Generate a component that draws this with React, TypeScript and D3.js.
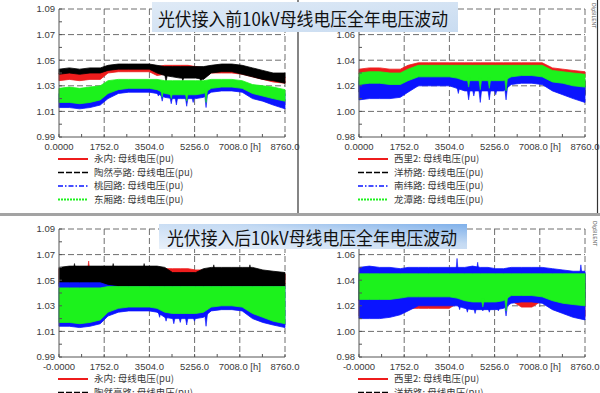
import React from 'react';
import * as d3 from 'd3';

// sample hours (read points along the year)
const hours = [0, 400, 800, 1200, 1600, 1900, 2300, 2700, 3100, 3500, 3800, 4100, 4400, 4700, 5000, 5300, 5600, 5900, 6300, 6700, 7100, 7500, 7900, 8300, 8760];

const xTicks = [0, 1752, 3504, 5256, 7008, 8760];
const xLabelsPre = ['0.0000', '1752.0', '3504.0', '5256.0', '7008.0 [h]', '8760.0'];
const xLabelsPost = ['-0.0000', '1752.0', '3504.0', '5256.0', '7008.0 [h]', '8760.0'];
const yTicksLeft = [0.99, 1.01, 1.03, 1.05, 1.07, 1.09];
// 1.08 sits under the title box in the original, so only the grid line is drawn there
const yTicksRight = [0.98, 1.0, 1.02, 1.04, 1.06];
const yGridRight = [1.0, 1.02, 1.04, 1.06, 1.08];
const yGridLeft = [1.01, 1.03, 1.05, 1.07, 1.09];

const namesLeft = ['永内', '陶然亭路', '桃园路', '东厢路'];
const namesRight = ['西里2', '洋桥路', '南纬路', '龙潭路'];
const titles = ['光伏接入前10kV母线电压全年电压波动', '光伏接入后10kV母线电压全年电压波动'];

// 光伏接入前 — 左
const plRedHi = [1.040, 1.041, 1.040, 1.041, 1.041, 1.044, 1.045, 1.045, 1.045, 1.045, 1.045, 1.046, 1.046, 1.046, 1.046, 1.045, 1.044, 1.045, 1.045, 1.045, 1.044, 1.042, 1.040, 1.039, 1.037];
const plRedLo = [1.034, 1.035, 1.034, 1.035, 1.035, 1.040, 1.041, 1.041, 1.041, 1.041, 1.038, 1.039, 1.039, 1.037, 1.037, 1.037, 1.036, 1.040, 1.040, 1.040, 1.039, 1.037, 1.035, 1.033, 1.032];
const plBlackHi = [1.043, 1.044, 1.043, 1.044, 1.044, 1.046, 1.047, 1.047, 1.047, 1.047, 1.046, 1.045, 1.045, 1.045, 1.045, 1.045, 1.045, 1.046, 1.047, 1.047, 1.046, 1.044, 1.042, 1.040, 1.040];
const plBlackLo = [1.039, 1.040, 1.039, 1.040, 1.040, 1.042, 1.043, 1.043, 1.043, 1.043, 1.040, 1.038, 1.037, 1.036, 1.036, 1.036, 1.035, 1.040, 1.041, 1.041, 1.039, 1.037, 1.035, 1.034, 1.032];
const plBlueHi = [1.024, 1.025, 1.024, 1.025, 1.026, 1.030, 1.031, 1.031, 1.031, 1.031, 1.030, 1.030, 1.030, 1.030, 1.030, 1.030, 1.030, 1.031, 1.031, 1.031, 1.031, 1.027, 1.026, 1.025, 1.024];
const plBlueLo = [1.013, 1.013, 1.012, 1.013, 1.015, 1.020, 1.024, 1.025, 1.025, 1.025, 1.024, 1.021, 1.020, 1.020, 1.020, 1.020, 1.021, 1.025, 1.026, 1.026, 1.025, 1.020, 1.018, 1.015, 1.012];
const plGreenHi = [1.028, 1.029, 1.028, 1.029, 1.030, 1.034, 1.035, 1.035, 1.035, 1.035, 1.035, 1.034, 1.034, 1.034, 1.034, 1.034, 1.034, 1.035, 1.035, 1.035, 1.034, 1.031, 1.030, 1.029, 1.027];
const plGreenLo = [1.017, 1.017, 1.016, 1.017, 1.019, 1.024, 1.027, 1.028, 1.028, 1.028, 1.027, 1.024, 1.023, 1.023, 1.023, 1.023, 1.024, 1.028, 1.029, 1.029, 1.028, 1.024, 1.022, 1.020, 1.018];
const plBlackDips = [[4150, 1.033], [4800, 1.034], [5500, 1.033]];
const plBlueDips = [[3850, 1.022], [4000, 1.018], [4350, 1.016], [4550, 1.015], [4950, 1.014], [5200, 1.017], [5700, 1.013]];
const plGreenDips = [[4000, 1.021], [4350, 1.020], [4950, 1.018], [5700, 1.017]];

// 光伏接入前 — 右
const prRedHi = [1.033, 1.034, 1.034, 1.033, 1.033, 1.036, 1.038, 1.038, 1.038, 1.038, 1.038, 1.038, 1.038, 1.038, 1.038, 1.038, 1.038, 1.038, 1.038, 1.038, 1.038, 1.034, 1.033, 1.032, 1.031];
const prRedLo = [1.029, 1.030, 1.030, 1.029, 1.029, 1.032, 1.035, 1.035, 1.035, 1.035, 1.034, 1.034, 1.034, 1.034, 1.034, 1.034, 1.034, 1.035, 1.035, 1.035, 1.035, 1.031, 1.030, 1.029, 1.027];
const prBlackHi = [1.027, 1.028, 1.028, 1.027, 1.027, 1.030, 1.032, 1.032, 1.032, 1.032, 1.031, 1.030, 1.030, 1.030, 1.030, 1.030, 1.030, 1.032, 1.033, 1.033, 1.032, 1.028, 1.027, 1.026, 1.025];
const prBlackLo = [1.015, 1.016, 1.016, 1.016, 1.016, 1.019, 1.023, 1.023, 1.023, 1.023, 1.022, 1.020, 1.020, 1.020, 1.020, 1.020, 1.020, 1.024, 1.025, 1.025, 1.024, 1.019, 1.017, 1.015, 1.013];
const prBlueHi = [1.024, 1.025, 1.025, 1.024, 1.025, 1.027, 1.029, 1.029, 1.029, 1.029, 1.028, 1.027, 1.027, 1.027, 1.027, 1.027, 1.027, 1.029, 1.030, 1.030, 1.029, 1.025, 1.023, 1.021, 1.020];
const prBlueLo = [1.009, 1.010, 1.010, 1.010, 1.011, 1.015, 1.020, 1.020, 1.020, 1.020, 1.018, 1.016, 1.016, 1.016, 1.016, 1.016, 1.016, 1.021, 1.022, 1.022, 1.021, 1.016, 1.013, 1.010, 1.007];
const prGreenHi = [1.030, 1.031, 1.031, 1.030, 1.030, 1.033, 1.036, 1.036, 1.036, 1.036, 1.036, 1.036, 1.036, 1.036, 1.036, 1.036, 1.036, 1.036, 1.036, 1.036, 1.036, 1.032, 1.031, 1.030, 1.029];
const prGreenLo = [1.021, 1.022, 1.022, 1.021, 1.021, 1.024, 1.027, 1.027, 1.027, 1.027, 1.026, 1.024, 1.024, 1.024, 1.024, 1.024, 1.024, 1.027, 1.028, 1.028, 1.027, 1.023, 1.022, 1.020, 1.019];
const prBlueDips = [[3850, 1.014], [4250, 1.009], [4450, 1.012], [4700, 1.007], [5050, 1.009], [5300, 1.013], [5700, 1.009]];
const prGreenDips = [[4250, 1.019], [4700, 1.017], [5050, 1.018], [5700, 1.016]];

// 光伏接入后 — 左
const qlRedHi = [1.059, 1.060, 1.060, 1.060, 1.060, 1.060, 1.060, 1.060, 1.060, 1.060, 1.060, 1.059, 1.059, 1.059, 1.059, 1.058, 1.058, 1.059, 1.059, 1.059, 1.059, 1.059, 1.057, 1.056, 1.055];
const qlRedLo = [1.047, 1.047, 1.047, 1.047, 1.047, 1.047, 1.047, 1.047, 1.047, 1.047, 1.047, 1.047, 1.047, 1.047, 1.047, 1.047, 1.047, 1.047, 1.047, 1.047, 1.047, 1.047, 1.047, 1.047, 1.047];
const qlBlackHi = [1.060, 1.061, 1.061, 1.061, 1.061, 1.061, 1.061, 1.061, 1.061, 1.061, 1.061, 1.060, 1.056, 1.056, 1.056, 1.056, 1.059, 1.060, 1.060, 1.060, 1.060, 1.060, 1.058, 1.057, 1.056];
const qlBlackLo = [1.045, 1.045, 1.045, 1.045, 1.045, 1.045, 1.045, 1.045, 1.045, 1.045, 1.045, 1.045, 1.045, 1.045, 1.045, 1.045, 1.045, 1.045, 1.045, 1.045, 1.045, 1.045, 1.045, 1.045, 1.045];
const qlBlueHi = [1.048, 1.048, 1.048, 1.048, 1.048, 1.046, 1.045, 1.045, 1.045, 1.045, 1.045, 1.045, 1.045, 1.045, 1.045, 1.045, 1.045, 1.045, 1.045, 1.045, 1.045, 1.045, 1.045, 1.045, 1.045];
const qlBlueLo = [1.014, 1.014, 1.013, 1.014, 1.016, 1.022, 1.025, 1.026, 1.026, 1.026, 1.025, 1.021, 1.020, 1.020, 1.020, 1.020, 1.021, 1.026, 1.027, 1.027, 1.026, 1.020, 1.017, 1.015, 1.013];
const qlGreenHi = [1.044, 1.044, 1.044, 1.044, 1.044, 1.045, 1.045, 1.045, 1.045, 1.045, 1.045, 1.045, 1.045, 1.045, 1.045, 1.045, 1.045, 1.045, 1.045, 1.045, 1.045, 1.045, 1.045, 1.045, 1.045];
const qlGreenLo = [1.017, 1.017, 1.016, 1.017, 1.019, 1.025, 1.028, 1.029, 1.029, 1.029, 1.028, 1.025, 1.024, 1.024, 1.024, 1.024, 1.025, 1.029, 1.030, 1.030, 1.029, 1.024, 1.021, 1.018, 1.016];
const qlRedSpikes = [[1150, 1.065]];
const qlBlackSpikes = [[600, 1.063], [2100, 1.063], [3300, 1.063], [6000, 1.062], [7400, 1.062]];
const qlBlueDips = [[3900, 1.021], [4150, 1.018], [4450, 1.016], [4700, 1.017], [4950, 1.015], [5250, 1.018], [5700, 1.014]];

// 光伏接入后 — 右
const qrRedHi = [1.040, 1.040, 1.040, 1.040, 1.040, 1.040, 1.040, 1.040, 1.040, 1.040, 1.040, 1.040, 1.040, 1.040, 1.040, 1.040, 1.040, 1.040, 1.040, 1.040, 1.040, 1.040, 1.040, 1.040, 1.040];
const qrRedLo = [1.012, 1.012, 1.012, 1.013, 1.015, 1.018, 1.018, 1.018, 1.018, 1.018, 1.022, 1.020, 1.019, 1.019, 1.019, 1.019, 1.020, 1.024, 1.019, 1.019, 1.024, 1.019, 1.016, 1.013, 1.011];
const qrBlackHi = [1.046, 1.046, 1.046, 1.046, 1.046, 1.046, 1.046, 1.046, 1.046, 1.046, 1.046, 1.046, 1.046, 1.046, 1.046, 1.046, 1.046, 1.046, 1.046, 1.046, 1.046, 1.046, 1.046, 1.046, 1.046];
const qrBlackLo = [1.024, 1.024, 1.024, 1.024, 1.024, 1.024, 1.024, 1.024, 1.024, 1.024, 1.024, 1.024, 1.024, 1.024, 1.024, 1.024, 1.024, 1.024, 1.024, 1.024, 1.024, 1.024, 1.024, 1.024, 1.024];
const qrBlueHi = [1.050, 1.051, 1.050, 1.050, 1.049, 1.050, 1.050, 1.050, 1.050, 1.050, 1.050, 1.050, 1.051, 1.050, 1.050, 1.049, 1.049, 1.050, 1.050, 1.050, 1.050, 1.049, 1.048, 1.047, 1.047];
const qrBlueLo = [1.010, 1.010, 1.010, 1.011, 1.013, 1.016, 1.020, 1.020, 1.020, 1.020, 1.020, 1.018, 1.017, 1.017, 1.017, 1.017, 1.018, 1.022, 1.023, 1.023, 1.022, 1.017, 1.014, 1.011, 1.009];
const qrGreenHi = [1.045, 1.045, 1.045, 1.045, 1.045, 1.045, 1.045, 1.045, 1.045, 1.045, 1.045, 1.045, 1.045, 1.045, 1.045, 1.045, 1.045, 1.045, 1.045, 1.045, 1.045, 1.045, 1.045, 1.045, 1.045];
const qrGreenLo = [1.025, 1.025, 1.025, 1.025, 1.026, 1.027, 1.027, 1.027, 1.027, 1.027, 1.026, 1.024, 1.023, 1.023, 1.023, 1.023, 1.024, 1.028, 1.028, 1.028, 1.027, 1.024, 1.022, 1.021, 1.020];
const qrBlueDips = [[3900, 1.017], [4200, 1.015], [4500, 1.014], [4800, 1.016], [5050, 1.015], [5400, 1.016], [5700, 1.012]];
const qrBlueSpikes = [[3800, 1.057], [4600, 1.054], [8600, 1.052]];
const qrGreenDips = [[4800, 1.019], [5700, 1.016]];

const RED = '#ee1c1c';
const BLACK = '#000000';
const BLUE = '#0a14ff';
const GREEN = '#1cf21c';
const styles = [
  { color: RED, dash: '', width: 2 },
  { color: BLACK, dash: '6,2', width: 1.6 },
  { color: BLUE, dash: '5,2,1.5,2', width: 1.6 },
  { color: GREEN, dash: '2,1', width: 2 },
];

const FONT = '"Liberation Sans", Arial, sans-serif';
const CJK = '"Noto Sans CJK SC", sans-serif';

type Band = { hi: number[]; lo: number[]; dips?: number[][]; spikes?: number[][] };

const Panel = ({ left, top, domain, yTicks, yGrid, xLabels, names, bands, rows }: any) => {
  const right = left + 226;
  const bottom = top + 128;
  const x = d3.scaleLinear().domain([0, 8760]).range([left, right]);
  const y = d3.scaleLinear().domain(domain).range([bottom, top]);
  const line = d3.line();
  const minorY = d3.range(domain[0], domain[1] + 0.0001, 0.01);
  const minorX = d3.range(0, 8761, 876);

  return (
    <g>
      {/* grid */}
      {yGrid.map((t: number) => (
        <line key={'gy' + t} x1={left} x2={right} y1={y(t)} y2={y(t)} stroke="#6e6e6e" strokeDasharray="6,3" />
      ))}
      {xTicks.slice(1).map((t) => (
        <line key={'gx' + t} x1={x(t)} x2={x(t)} y1={top} y2={bottom} stroke="#6e6e6e" strokeDasharray="6,3" />
      ))}
      {/* data bands */}
      {bands.map((b: Band, i: number) => {
        const pts: [number, number][] = hours
          .map((h, k) => [x(h), y(b.hi[k])] as [number, number])
          .concat(hours.map((h, k) => [x(h), y(b.lo[k])] as [number, number]).reverse());
        const loAt = d3.scaleLinear().domain(hours).range(b.lo);
        const hiAt = d3.scaleLinear().domain(hours).range(b.hi);
        const c = styles[i].color;
        return (
          <g key={'b' + i}>
            <path d={line(pts) + 'Z'} fill={c} stroke={c} strokeWidth={0.8} />
            {(b.dips || []).map(([h, v], k) => (
              <path key={'d' + k} d={`M${x(h) - 1.6},${y(loAt(h) + 0.002)}L${x(h)},${y(v)}L${x(h) + 1.6},${y(loAt(h) + 0.002)}Z`} fill={c} stroke={c} strokeWidth={0.6} />
            ))}
            {(b.spikes || []).map(([h, v], k) => (
              <path key={'s' + k} d={`M${x(h) - 1},${y(hiAt(h) - 0.002)}L${x(h)},${y(v)}L${x(h) + 1},${y(hiAt(h) - 0.002)}Z`} fill={c} stroke={c} strokeWidth={0.6} />
            ))}
          </g>
        );
      })}
      {/* axes */}
      <line x1={left} x2={left} y1={top} y2={bottom} stroke="#555" />
      <line x1={left} x2={right} y1={bottom} y2={bottom} stroke="#555" />
      {minorY.map((t) => (
        <line key={'my' + t} x1={left} x2={left + 3} y1={y(t)} y2={y(t)} stroke="#555" />
      ))}
      {minorX.map((t) => (
        <line key={'mx' + t} x1={x(t)} x2={x(t)} y1={bottom} y2={bottom - 3} stroke="#555" />
      ))}
      {yTicks.map((t: number) => (
        <text key={'ly' + t} x={left - 4} y={y(t)} dy="0.35em" textAnchor="end" fontSize={9.5} fontFamily={FONT} fill="#3a3a3a">
          {t.toFixed(2)}
        </text>
      ))}
      {xTicks.map((t, k) => (
        <text key={'lx' + t} x={x(t)} y={bottom + 10} dy="0.35em" textAnchor="middle" fontSize={9.5} fontFamily={FONT} fill="#3a3a3a">
          {xLabels[k]}
        </text>
      ))}
      {/* legend */}
      {names.slice(0, rows).map((n: string, k: number) => {
        const ly = bottom + 22 + k * 13.5;
        const s = styles[k];
        return (
          <g key={'lg' + k}>
            <line x1={left - 1} x2={left + 29} y1={ly} y2={ly} stroke={s.color} strokeWidth={s.width} strokeDasharray={s.dash} />
            <text x={left + 35} y={ly} dy="0.35em" fontSize={9.5} fontFamily={CJK} fill="#3a3a3a">
              {n}: 母线电压(pu)
            </text>
          </g>
        );
      })}
    </g>
  );
};

const App = () => {
  const panels = [
    {
      left: 59, top: 9, domain: [0.99, 1.09], yTicks: yTicksLeft, yGrid: yGridLeft, xLabels: xLabelsPre, names: namesLeft, rows: 4,
      bands: [
        { hi: plRedHi, lo: plRedLo },
        { hi: plBlackHi, lo: plBlackLo, dips: plBlackDips },
        { hi: plBlueHi, lo: plBlueLo, dips: plBlueDips },
        { hi: plGreenHi, lo: plGreenLo, dips: plGreenDips },
      ],
    },
    {
      left: 359, top: 9, domain: [0.98, 1.08], yTicks: yTicksRight, yGrid: yGridRight, xLabels: xLabelsPre, names: namesRight, rows: 4,
      bands: [
        { hi: prRedHi, lo: prRedLo },
        { hi: prBlackHi, lo: prBlackLo },
        { hi: prBlueHi, lo: prBlueLo, dips: prBlueDips },
        { hi: prGreenHi, lo: prGreenLo, dips: prGreenDips },
      ],
    },
    {
      left: 59, top: 229, domain: [0.99, 1.09], yTicks: yTicksLeft, yGrid: yGridLeft, xLabels: xLabelsPost, names: namesLeft, rows: 2,
      bands: [
        { hi: qlRedHi, lo: qlRedLo, spikes: qlRedSpikes },
        { hi: qlBlackHi, lo: qlBlackLo, spikes: qlBlackSpikes },
        { hi: qlBlueHi, lo: qlBlueLo, dips: qlBlueDips },
        { hi: qlGreenHi, lo: qlGreenLo },
      ],
    },
    {
      left: 359, top: 229, domain: [0.98, 1.08], yTicks: yTicksRight, yGrid: yGridRight, xLabels: xLabelsPost, names: namesRight, rows: 2,
      bands: [
        { hi: qrRedHi, lo: qrRedLo },
        { hi: qrBlackHi, lo: qrBlackLo },
        { hi: qrBlueHi, lo: qrBlueLo, dips: qrBlueDips, spikes: qrBlueSpikes },
        { hi: qrGreenHi, lo: qrGreenLo, dips: qrGreenDips },
      ],
    },
  ];

  return (
    <div style={{ position: 'absolute', left: 0, top: 0, width: 600, height: 393, background: '#fff', overflow: 'hidden' }}>
      <svg width={600} height={393} style={{ display: 'block' }}>
        <defs>
          <linearGradient id="t1" x1="0" y1="0" x2="1" y2="1">
            <stop offset="0" stopColor="#dfeaf6" />
            <stop offset="1" stopColor="#c9dcf1" />
          </linearGradient>
          <linearGradient id="t2" x1="0" y1="1" x2="1" y2="0">
            <stop offset="0" stopColor="#e9f1fa" />
            <stop offset="0.6" stopColor="#c4daf3" />
            <stop offset="1" stopColor="#7fb0ea" />
          </linearGradient>
        </defs>
        <rect width={600} height={393} fill="#fff" />
        {panels.map((p, i) => (
          <Panel key={i} {...p} />
        ))}
        {/* frame pieces */}
        <rect x={0} y={213} width={600} height={3} fill="#a3a3a3" />
        <line x1={298} x2={298} y1={0} y2={213} stroke="#333" strokeWidth={1.2} />
        <line x1={597.5} x2={597.5} y1={0} y2={213} stroke="#333" strokeWidth={1.2} />
        <text transform="translate(592,3) rotate(90)" fontSize={5} fontFamily={FONT} fill="#555">DIgSILENT</text>
        <text transform="translate(593,221) rotate(90)" fontSize={5} fontFamily={FONT} fill="#555">DIgSILENT</text>
        {/* titles */}
        <rect x={152} y={2} width={306} height={30} fill="url(#t1)" />
        <text x={158} y={19.5} dy="0.35em" fontSize={18} fontFamily={CJK} fill="#111" textLength={290} lengthAdjust="spacingAndGlyphs">
          {titles[0]}
        </text>
        <rect x={159} y={224} width={308} height={25} fill="url(#t2)" />
        <text x={167} y={238.5} dy="0.35em" fontSize={18} fontFamily={CJK} fill="#111" textLength={290} lengthAdjust="spacingAndGlyphs">
          {titles[1]}
        </text>
      </svg>
    </div>
  );
};

export default App;
